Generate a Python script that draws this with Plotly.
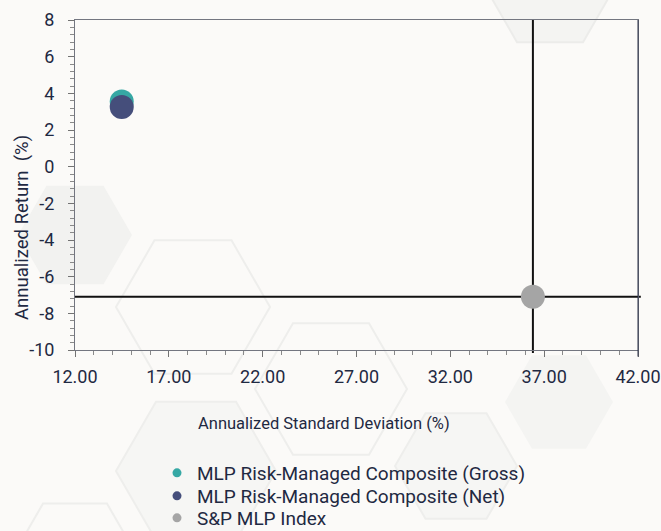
import math
import plotly.graph_objects as go

series_names = ["MLP Risk-Managed Composite (Gross)", "MLP Risk-Managed Composite (Net)", "S&P MLP Index"]
std_dev = [14.49, 14.49, 36.40]
returns = [3.55, 3.25, -7.09]
colors = ["#36a8a4", "#454e7b", "#a5a5a5"]

benchmark_std = std_dev[2]
benchmark_ret = returns[2]

x_ticks = [12, 17, 22, 27, 32, 37, 42]
y_ticks = [8, 6, 4, 2, 0, -2, -4, -6, -8, -10]

FONT = "Roboto"
TXT = "#1f2942"
BG = "#fbfaf8"

W, H = 661, 531
ML, MR, MT, MB = 75, 23, 20, 181
PW, PH = W - ML - MR, H - MT - MB


def px(x):
    return (x - ML) / PW


def py(y):
    return (H - MB - y) / PH


legend_ids = ["legend", "legend2", "legend3"]

fig = go.Figure()
for name, x, y, c in zip(series_names, std_dev, returns, colors):
    fig.add_trace(go.Scatter(
        x=[x], y=[y], mode="markers", name=name, showlegend=False,
        marker=dict(size=24, color=c, line=dict(width=0)),
        cliponaxis=False,
    ))
# legend entries (smaller dots like the reference), one legend box per entry
for name, c, lid in zip(series_names, colors, legend_ids):
    fig.add_trace(go.Scatter(
        x=[None], y=[None], mode="markers", name=name, legend=lid,
        marker=dict(size=9, color=c),
    ))

# decorative background hexagons (cx, cy, R, fill, outline) in pixels
hexes = [
    (75, 235, 57, "#f2f2f0", None),
    (193, 307, 77, None, "#eeeeec"),
    (331, 389, 76, None, "#eeeeec"),
    (196, 471, 80, "#f6f6f4", "#eeeeec"),
    (75, 559, 64, None, "#eeeeec"),
    (559, 402, 54, "#f4f4f2", None),
    (456, 466, 61, "#f6f6f4", "#eeeeec"),
    (550, -15, 66, "#f4f4f2", "#ececea"),
]
for cx, cy, R, fillc, linec in hexes:
    pts = []
    for k in range(6):
        a = math.radians(60 * k)
        pts.append((px(cx + R * math.cos(a)), py(cy + R * math.sin(a))))
    path = "M " + " L ".join(f"{a:.4f},{b:.4f}" for a, b in pts) + " Z"
    fig.add_shape(type="path", path=path, xref="paper", yref="paper", layer="below",
                  fillcolor=fillc if fillc else "rgba(0,0,0,0)",
                  line=dict(color=linec if linec else "rgba(0,0,0,0)", width=2))

# crosshair lines through benchmark
fig.add_shape(type="line", xref="x", yref="paper", x0=benchmark_std, x1=benchmark_std,
              y0=-0.009, y1=1, line=dict(color="#111111", width=2), layer="below")
fig.add_shape(type="line", xref="paper", yref="y", x0=0, x1=1.005, y0=benchmark_ret, y1=benchmark_ret,
              line=dict(color="#111111", width=2), layer="below")
# darker right border
fig.add_shape(type="line", xref="paper", yref="paper", x0=1, x1=1, y0=-0.02, y1=1,
              line=dict(color="#2b3048", width=1))

fig.update_xaxes(
    range=[12, 42], tickvals=x_ticks, ticktext=[f"{v:.2f}" for v in x_ticks],
    showgrid=False, zeroline=False, showline=True, linecolor="#737680", linewidth=1,
    mirror=True, ticks="outside", ticklen=6, tickcolor="#737373", ticklabelstandoff=4,
    minor=dict(dtick=1, tick0=12, ticks="outside", ticklen=4, tickcolor="#8a8a8a"),
    tickfont=dict(family=FONT, size=18, color=TXT),
)
fig.update_yaxes(
    range=[-10, 8], tickvals=y_ticks, ticktext=[str(v) for v in y_ticks],
    showgrid=False, zeroline=False, showline=True, linecolor="#737680", linewidth=1,
    mirror=True, ticks="outside", ticklen=6, tickcolor="#737373", ticklabelstandoff=10,
    minor=dict(dtick=0.4, tick0=-10, ticks="outside", ticklen=4, tickcolor="#8a8a8a"),
    tickfont=dict(family=FONT, size=18, color=TXT),
)

fig.add_annotation(text="Annualized Standard Deviation (%)", xref="paper", yref="paper",
                   x=px(324), y=py(423), showarrow=False,
                   font=dict(family=FONT, size=16.5, color=TXT), xanchor="center", yanchor="middle")
fig.add_annotation(text="Annualized Return  (%)", xref="paper", yref="paper",
                   x=px(22), y=py(228), showarrow=False, textangle=-90,
                   font=dict(family=FONT, size=18.5, color=TXT), xanchor="center", yanchor="middle")

legend_common = dict(xanchor="left", yanchor="top", bgcolor="rgba(0,0,0,0)",
                     font=dict(family=FONT, size=19, color=TXT), itemsizing="trace")
legend_tops = [454, 477, 499]

fig.update_layout(
    width=W, height=H,
    margin=dict(l=ML, r=MR, t=MT, b=MB, autoexpand=False),
    paper_bgcolor=BG, plot_bgcolor="rgba(0,0,0,0)",
    showlegend=True,
    font=dict(family=FONT, color=TXT),
)
for lid, top in zip(legend_ids, legend_tops):
    fig.update_layout({lid: dict(x=px(157), y=py(top), **legend_common)})

fig.write_html(
    "out.html",
    config={"displayModeBar": False},
    post_script="document.body.style.margin='0';document.body.style.background='%s';" % BG,
)
